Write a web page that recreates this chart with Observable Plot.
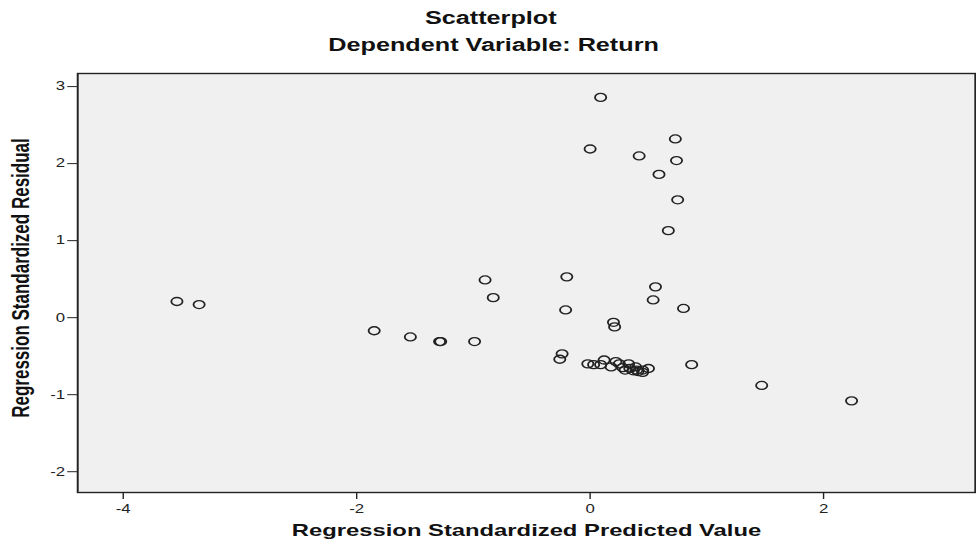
<!DOCTYPE html>
<html>
<head>
<meta charset="utf-8">
<script src="https://cdn.jsdelivr.net/npm/d3@7"></script>
<script src="https://cdn.jsdelivr.net/npm/@observablehq/plot@0.6"></script>
<style>
  html, body { margin: 0; padding: 0; background: #fff; overflow: hidden; }
  #wrap { width: 697px; transform: scaleX(1.4003); transform-origin: 0 0; font-family: "Liberation Sans", Arial, sans-serif; color: #111; }
  .ttl { text-align: center; font-weight: bold; font-size: 18px; line-height: 20px; white-space: nowrap; }
  #t1 { padding-top: 8px; padding-left: 4px; }
  #t2 { margin-top: 7px; height: 25px; padding-left: 8px; }
</style>
</head>
<body>
<div id="wrap">
  <div class="ttl" id="t1">Scatterplot</div>
  <div class="ttl" id="t2">Dependent Variable: Return</div>
  <div id="chart"></div>
</div>
<script>
const title = "Scatterplot";
const subtitle = "Dependent Variable: Return";
const xLabel = "Regression Standardized Predicted Value";
const yLabel = "Regression Standardized Residual";
const xTicks = [-4, -2, 0, 2];
const yTicks = [-2, -1, 0, 1, 2, 3];

const predicted = [
  -3.54, -3.35, -1.85, -1.54, -1.29, -1.28, -0.99, -0.90, -0.83, -0.20,
  -0.21, -0.24, -0.26, 0.09, 0.00, 0.42, 0.73, 0.74, 0.59, 0.75,
  0.67, 0.56, 0.54, 0.80, 0.20, 0.21, 0.87, 1.47, 2.24,
  -0.02, 0.03, 0.09, 0.12, 0.18, 0.22, 0.25, 0.28, 0.33, 0.34,
  0.39, 0.40, 0.45, 0.50, 0.45, 0.30, 0.37, 0.41
];
const residual = [
  0.21, 0.17, -0.17, -0.25, -0.31, -0.31, -0.31, 0.49, 0.26, 0.53,
  0.10, -0.47, -0.54, 2.86, 2.19, 2.10, 2.32, 2.04, 1.86, 1.53,
  1.13, 0.40, 0.23, 0.12, -0.06, -0.12, -0.61, -0.88, -1.08,
  -0.60, -0.61, -0.61, -0.55, -0.64, -0.57, -0.60, -0.65, -0.60, -0.66,
  -0.64, -0.68, -0.68, -0.66, -0.71, -0.68, -0.69, -0.70
];

document.getElementById("t1").textContent = title;
document.getElementById("t2").textContent = subtitle;

const points = predicted.map((x, i) => ({x, y: residual[i]}));
const fmt = d => String(d);

const chart = Plot.plot({
  width: 697,
  height: 486,
  marginTop: 13,
  marginBottom: 54,
  marginLeft: 55,
  marginRight: 1,
  style: {fontFamily: "'Liberation Sans', Arial, sans-serif", fontSize: "12px", color: "#222", background: "transparent"},
  x: {domain: [-4.39, 3.3], ticks: xTicks, tickFormat: fmt, tickSize: 7, tickPadding: 5, label: null},
  y: {domain: [-2.27, 3.17], ticks: yTicks, tickFormat: fmt, tickSize: 7, tickPadding: 2, label: null},
  marks: [
    Plot.frame({fill: "#f0f0f0", stroke: "none"}),
    Plot.dot(points, {x: "x", y: "y", r: 4, stroke: "#222", strokeWidth: 1.3, fill: "none"}),
    Plot.frame({stroke: "#222", strokeWidth: 1.4}),
    Plot.text([xLabel], {frameAnchor: "bottom", dy: 43, text: d => d, fontSize: 17, fontWeight: "bold", fill: "#111"}),
    Plot.text([yLabel], {frameAnchor: "left", textAnchor: "middle", dx: -40, dy: -5, rotate: -90, text: d => d, fontSize: 17, fontWeight: "bold", fill: "#111"})
  ]
});
document.getElementById("chart").appendChild(chart);
</script>
</body>
</html>
